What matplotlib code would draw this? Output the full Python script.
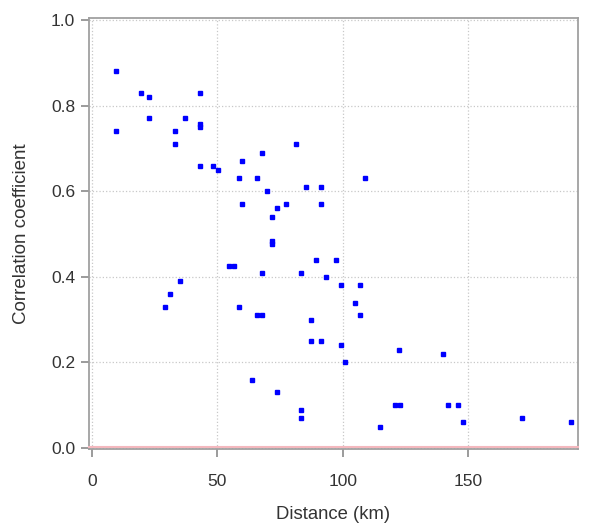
import matplotlib
matplotlib.use("Agg")
import matplotlib.pyplot as plt

plt.rcParams['font.family'] = ['Liberation Sans', 'DejaVu Sans']

# distance (km) and correlation coefficient
distance = [9.5, 19.5, 23, 43, 23, 37, 9.5, 33, 43, 43, 33, 43, 48.5, 50.5,
            81.5, 68, 60, 58.5, 66, 70, 85.5, 91.5, 60, 77.5, 91.5, 74, 72,
            109, 72, 72, 89.5, 97.5, 54.5, 56.5, 68, 83.5, 93.5, 99.3, 35,
            31, 29, 58.5, 66, 68, 87.5, 87.5, 91.5, 99.3, 64, 74, 83.5, 83.5,
            107, 105, 107, 122.5, 140, 101, 121, 123, 142, 146, 148, 115,
            171.5, 191]
correlation = [0.88, 0.83, 0.82, 0.83, 0.77, 0.77, 0.74, 0.74, 0.757, 0.749,
               0.71, 0.66, 0.66, 0.65, 0.71, 0.69, 0.67, 0.63, 0.63, 0.60,
               0.61, 0.61, 0.57, 0.57, 0.57, 0.56, 0.54, 0.63, 0.484, 0.477,
               0.44, 0.44, 0.425, 0.425, 0.41, 0.41, 0.40, 0.38, 0.39, 0.36,
               0.33, 0.33, 0.31, 0.31, 0.30, 0.25, 0.25, 0.24, 0.16, 0.13,
               0.09, 0.07, 0.38, 0.34, 0.31, 0.23, 0.22, 0.20, 0.10, 0.10,
               0.10, 0.10, 0.06, 0.05, 0.07, 0.06]

x_ticks = [0, 50, 100, 150]
y_ticks = [0.0, 0.2, 0.4, 0.6, 0.8, 1.0]
y_labels = ['0.0', '0.2', '0.4', '0.6', '0.8', '1.0']

text_col = '#333333'
frame_col = '#a0a0a0'

fig = plt.figure(figsize=(6.01, 5.28), dpi=100)
ax = fig.add_axes([0.148, 0.1496, 0.814, 0.8163])

ax.grid(True, color='#c8c8c8', linestyle=':', linewidth=0.9)
ax.set_axisbelow(True)
ax.axhline(0.002, color='#f4b8be', linewidth=1.5, zorder=2.7, clip_on=False)
ax.plot(distance, correlation, linestyle='none', marker='s', markersize=3.3,
        color='blue', zorder=3)

ax.set_xlim(-1.1, 193.8)
ax.set_ylim(-0.0023, 1.0047)
ax.set_xticks(x_ticks)
ax.set_yticks(y_ticks)
ax.set_yticklabels(y_labels)

for sp in ax.spines.values():
    sp.set_color(frame_col)
    sp.set_linewidth(1.3)
ax.tick_params(axis='both', colors='#808080', labelcolor=text_col,
               labelsize=12.5, length=6, width=1.1)
ax.tick_params(axis='x', pad=12)
ax.tick_params(axis='y', pad=4)

ax.set_xlabel('Distance (km)', fontsize=13.3, color=text_col)
ax.set_ylabel('Correlation coefficient', fontsize=13.5, color=text_col)
ax.xaxis.set_label_coords(0.5, -0.153)
ax.xaxis.label.set_verticalalignment('center')
ax.yaxis.set_label_coords(-0.137, 0.5)
ax.yaxis.label.set_verticalalignment('center')

fig.savefig('out.png', dpi=100)
